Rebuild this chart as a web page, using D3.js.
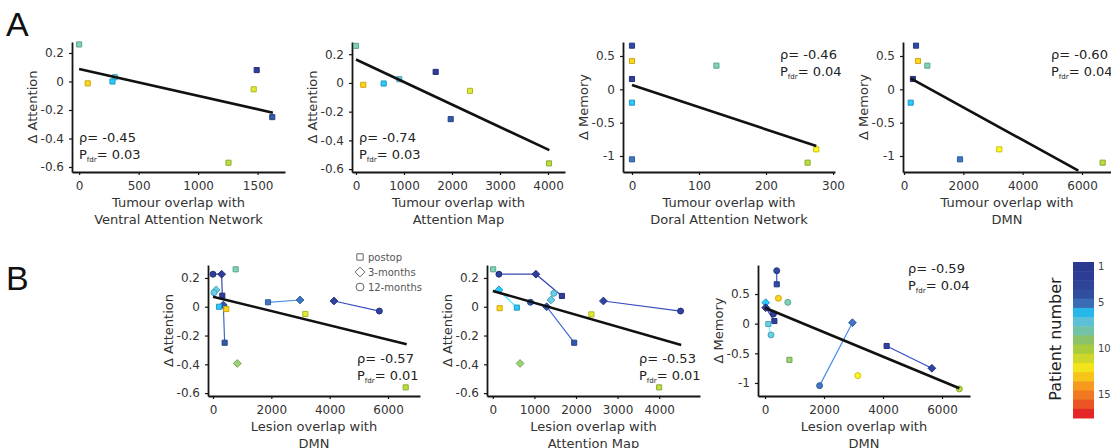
<!DOCTYPE html>
<html><head><meta charset="utf-8">
<script src="https://cdn.jsdelivr.net/npm/d3@7"></script>
<style>
body{margin:0;background:#fff;}
svg{display:block;font-family:"DejaVu Sans",sans-serif;}
</style></head><body>
<svg id="c" width="1111" height="448"></svg>
<script>
// ---------- DATA ----------
const patientColors = ["#2b3990","#2c3c94","#2e4499","#30509f","#3a6db5","#26b8ea","#5cc0d6","#72c2a8","#8cc36a","#a9cc3c","#cfd82a","#f3e41a","#f7c518","#f59a1f","#f07922","#eb5524","#e52627"];
const patientNumbers = d3.range(1, 18);
const patientTicks = [1, 5, 10, 15];
const timeLabels = ["postop", "3-months", "12-months"];

// Panel A: [overlap, delta, patient]
const a1Points = [[0,0.26,8],[72,-0.013,13],[300,0.03,7],[280,0.0,6],[1255,-0.57,10],[1467,-0.055,11],[1492,0.08,1],[1623,-0.25,4]];
const a1Fit = [[0,0.088],[1628,-0.219]];
const a1Stats = ["-0.45","0.03"];
const a2Points = [[0,0.258,8],[152,-0.013,13],[577,-0.004,6],[902,0.026,7],[1660,0.077,1],[1973,-0.252,4],[2375,-0.055,11],[4021,-0.56,10]];
const a2Fit = [[0,0.163],[4028,-0.468]];
const a2Stats = ["-0.74","0.03"];
const a3Points = [[0,0.655,3],[0,0.425,13],[0,0.155,1],[0,-0.2,6],[0,-1.05,5],[126,0.355,8],[262,-1.1,10],[275,-0.9,12]];
const a3Fit = [[0,0.065],[275,-0.85]];
const a3Stats = ["-0.46","0.04"];
const a4Points = [[405,0.655,3],[472,0.425,13],[787,0.355,8],[300,0.155,1],[225,-0.2,6],[1888,-1.05,5],[3213,-0.9,12],[6696,-1.1,10]];
const a4Fit = [[225,0.165],[5876,-1.22]];
const a4Stats = ["-0.60","0.04"];

// Panel B: [overlap, delta, patient, timepoint(0 postop,1 3-months,2 12-months)]
const b1Points = [[320,0.077,1,0],[297,0.226,1,1],[0,0.226,1,2],[400,-0.25,4,0],[354,0.012,4,1],
  [110,0.117,7,1],[34,0.098,7,2],[206,0.0,6,0],[457,-0.016,13,0],[778,0.26,8,0],[834,-0.394,9,1],
  [1886,0.031,5,0],[2983,0.047,5,1],[3166,-0.05,11,0],[4148,0.04,2,1],[5703,-0.03,2,2],[6605,-0.56,10,0]];
const b1Fit = [[0,0.07],[6640,-0.26]];
const b1Stats = ["-0.57","0.01"];
const b2Points = [[8,0.26,8,0],[1661,0.075,1,0],[1036,0.226,1,1],[147,0.226,1,2],[578,-0.006,6,0],[147,0.117,6,1],
  [164,-0.01,13,0],[1957,-0.25,4,0],[1294,0.0,4,1],[905,0.031,4,2],[1396,0.047,7,1],[1466,0.093,7,2],
  [655,-0.394,9,1],[2370,-0.053,11,0],[2659,0.04,2,1],[4515,-0.03,2,2],[4000,-0.56,10,0]];
const b2Fit = [[0,0.11],[4530,-0.265]];
const b2Stats = ["-0.53","0.01"];
const b3Points = [[398,0.664,3,0],[398,0.893,3,2],[455,0.428,13,2],[773,0.36,8,2],[23,0.354,6,1],
  [318,0.045,1,0],[23,0.27,1,1],[284,0.163,1,2],[114,-0.005,7,0],[204,-0.19,7,2],[829,-0.61,9,0],
  [2964,0.017,5,1],[1851,-1.045,5,2],[3146,-0.876,12,2],[4123,-0.376,2,0],[5656,-0.752,2,1],[6587,-1.1,10,2]];
const b3Fit = [[0,0.27],[6587,-1.09]];
const b3Stats = ["-0.59","0.04"];

// ---------- DRAW ----------
const svg = d3.select("#c");
const fmt = d => String(d);
const symbolRhombus = {draw(ctx, size) {
  const r = Math.sqrt(size / 2);
  ctx.moveTo(0, -r); ctx.lineTo(r, 0); ctx.lineTo(0, r); ctx.lineTo(-r, 0); ctx.closePath();
}};
const symbols = [d3.symbolSquare, symbolRhombus, d3.symbolCircle];
const symSize = [26, 30, 28];
const col = p => patientColors[p - 1];

function panel(cfg) {
  const g = svg.append("g");
  const x = d3.scaleLinear().domain(cfg.xd).range(cfg.xr);
  const y = d3.scaleLinear().domain(cfg.yd).range(cfg.yr);

  const xa = g.append("g").attr("transform", `translate(0,${cfg.yr[0]})`)
    .call(d3.axisBottom(x).tickValues(cfg.xt).tickSize(3).tickPadding(6).tickSizeOuter(0).tickFormat(fmt));
  const ya = g.append("g").attr("transform", `translate(${cfg.xr[0]},0)`)
    .call(d3.axisLeft(y).tickValues(cfg.yt).tickSize(3).tickPadding(5).tickSizeOuter(0).tickFormat(fmt));
  [xa, ya].forEach(a => {
    a.select(".domain").attr("stroke", "#151515").attr("stroke-width", 1.8);
    a.selectAll(".tick line").attr("stroke", "#151515").attr("stroke-width", 1.2);
    a.selectAll(".tick text").attr("fill", "#333").attr("font-size", 12).attr("font-family", "DejaVu Sans");
  });

  // connecting lines (longitudinal data)
  if (cfg.connect) {
    const groups = d3.group(cfg.points, d => d[2]);
    for (const [p, pts] of groups) {
      if (pts.length < 2) continue;
      g.append("path")
        .attr("d", d3.line().x(d => x(d[0])).y(d => y(d[1]))(pts))
        .attr("fill", "none")
        .attr("stroke", d3.color(col(p)).brighter(0.7))
        .attr("stroke-width", 1.2);
    }
  }

  // markers
  g.selectAll("path.m").data(cfg.points).join("path").attr("class", "m")
    .attr("transform", d => `translate(${x(d[0])},${y(d[1])})`)
    .attr("d", d => d3.symbol().type(symbols[d[3] || 0]).size(symSize[d[3] || 0])())
    .attr("fill", d => d3.color(col(d[2])).brighter(0.25))
    .attr("stroke", d => d3.color(col(d[2])).darker(0.5))
    .attr("stroke-width", 1);

  // regression line
  g.append("path")
    .attr("d", d3.line().x(d => x(d[0])).y(d => y(d[1]))(cfg.fit))
    .attr("stroke", "#111").attr("stroke-width", 2.6).attr("fill", "none");

  // stats
  const st = g.append("g").attr("fill", "#222").attr("font-size", 13);
  st.append("text").attr("x", cfg.sx).attr("y", cfg.sy).text("ρ= " + cfg.stats[0]);
  const t2 = st.append("text").attr("x", cfg.sx).attr("y", cfg.sy + 17);
  t2.append("tspan").text("P");
  t2.append("tspan").attr("font-size", 7).attr("dy", 3).text("fdr");
  t2.append("tspan").attr("dy", -3).text("= " + cfg.stats[1]);

  // axis titles
  const cx = (cfg.xr[0] + cfg.xr[1]) / 2;
  const tt = g.append("text").attr("text-anchor", "middle").attr("fill", "#333").attr("font-size", 13);
  tt.append("tspan").attr("x", cx).attr("y", cfg.yr[0] + 35).text(cfg.xtitle[0]);
  tt.append("tspan").attr("x", cx).attr("y", cfg.yr[0] + 52).text(cfg.xtitle[1]);
  const cy = (cfg.yr[0] + cfg.yr[1]) / 2;
  g.append("text").attr("text-anchor", "middle").attr("fill", "#333").attr("font-size", 13)
    .attr("transform", `translate(${cfg.xr[0] - 35},${cy}) rotate(-90)`).text(cfg.ytitle);
}

const attT = [-0.6, -0.4, -0.2, 0, 0.2];
const memT = [-1, -0.5, 0, 0.5];

panel({points: a1Points, fit: a1Fit, stats: a1Stats, xd: [-60, 1730], xr: [72, 285], yd: [-0.635, 0.277], yr: [172, 42],
  xt: [0, 500, 1000, 1500], yt: attT, sx: 79, sy: 142, xtitle: ["Tumour overlap with", "Ventral Attention Network"], ytitle: "Δ Attention"});
panel({points: a2Points, fit: a2Fit, stats: a2Stats, xd: [-83, 4354], xr: [352, 565], yd: [-0.62, 0.285], yr: [172, 42],
  xt: [0, 1000, 2000, 3000, 4000], yt: attT, sx: 359, sy: 142, xtitle: ["Tumour overlap with", "Attention Map"], ytitle: "Δ Attention"});
panel({points: a3Points, fit: a3Fit, stats: a3Stats, xd: [-13.4, 302.9], xr: [623, 835], yd: [-1.24, 0.71], yr: [172, 42],
  xt: [0, 100, 200, 300], yt: memT, sx: 780, sy: 59, xtitle: ["Tumour overlap with", "Doral Attention Network"], ytitle: "Δ Memory"});
panel({points: a4Points, fit: a4Fit, stats: a4Stats, xd: [-34, 6977], xr: [903, 1111], yd: [-1.24, 0.71], yr: [172, 42],
  xt: [0, 2000, 4000, 6000], yt: memT, sx: 1051, sy: 59, xtitle: ["Tumour overlap with", "DMN"], ytitle: "Δ Memory"});

panel({points: b1Points, fit: b1Fit, stats: b1Stats, connect: true, xd: [-171, 7096], xr: [208, 420], yd: [-0.62, 0.29], yr: [396, 265],
  xt: [0, 2000, 4000, 6000], yt: attT, sx: 357, sy: 363, xtitle: ["Lesion overlap with", "DMN"], ytitle: "Δ Attention"});
panel({points: b2Points, fit: b2Fit, stats: b2Stats, connect: true, xd: [-140, 4982], xr: [487, 700], yd: [-0.62, 0.29], yr: [396, 265],
  xt: [0, 1000, 2000, 3000, 4000], yt: attT, sx: 639, sy: 363, xtitle: ["Lesion overlap with", "Attention Map"], ytitle: "Δ Attention"});
panel({points: b3Points, fit: b3Fit, stats: b3Stats, connect: true, xd: [-237, 6949], xr: [758, 970], yd: [-1.22, 0.99], yr: [396, 265],
  xt: [0, 2000, 4000, 6000], yt: memT, sx: 908, sy: 273, xtitle: ["Lesion overlap with", "DMN"], ytitle: "Δ Memory"});

// legend (timepoints)
const lg = svg.append("g").attr("transform", "translate(360,257)");
timeLabels.forEach((t, i) => {
  lg.append("path").attr("transform", `translate(0,${i * 15})`)
    .attr("d", d3.symbol().type(symbols[i]).size(i === 0 ? 40 : 48)())
    .attr("fill", "none").attr("stroke", "#666").attr("stroke-width", 1);
  lg.append("text").attr("x", 8).attr("y", i * 15 + 3.5).attr("font-size", 10).attr("fill", "#555").text(t);
});

// colorbar
const band = d3.scaleBand().domain(patientNumbers).range([262, 418]);
svg.append("g").selectAll("rect").data(patientNumbers).join("rect")
  .attr("x", 1073).attr("width", 21).attr("y", d => band(d)).attr("height", band.bandwidth() + 0.5)
  .attr("fill", d => col(d));
const cb = svg.append("g").attr("transform", "translate(1094,0)")
  .call(d3.axisRight(band).tickValues(patientTicks).tickSize(0).tickPadding(4));
cb.select(".domain").remove();
cb.selectAll("text").attr("font-size", 10).attr("fill", "#444").attr("font-family", "DejaVu Sans");
svg.append("text").attr("transform", "translate(1061,339) rotate(-90)").attr("text-anchor", "middle")
  .attr("font-size", 16).attr("fill", "#222").text("Patient number");

// panel letters
svg.append("text").attr("x", 6).attr("y", 36).attr("font-size", 34).attr("font-family", "Liberation Sans, Arial, sans-serif").attr("fill", "#111").text("A");
svg.append("text").attr("x", 6).attr("y", 290).attr("font-size", 34).attr("font-family", "Liberation Sans, Arial, sans-serif").attr("fill", "#111").text("B");
</script>
</body></html>
